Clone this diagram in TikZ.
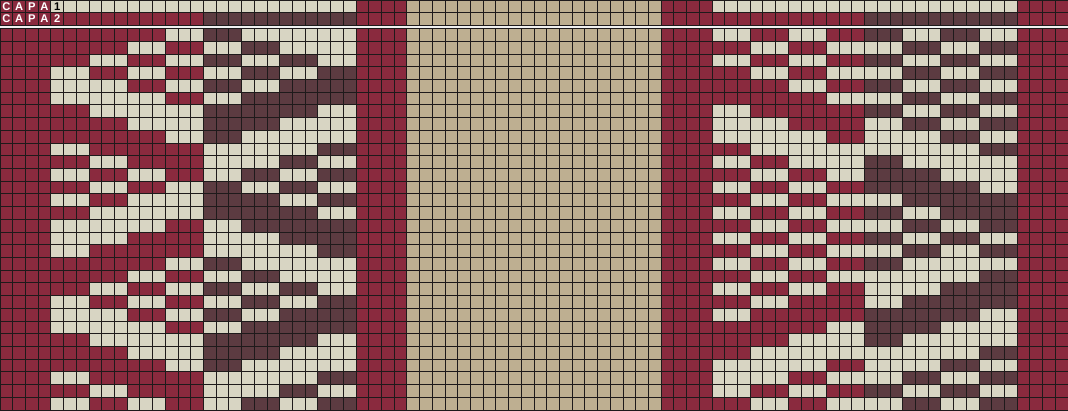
\documentclass[tikz,border=0pt]{standalone}
\usepackage{fontspec}
\setsansfont{Liberation Sans}
\definecolor{capared}{HTML}{8A2A3E}
\definecolor{capacream}{HTML}{D8D5C3}
\definecolor{capabrown}{HTML}{5C3B41}
\definecolor{capatan}{HTML}{BEAF91}
\definecolor{capagap}{HTML}{F0F0F0}
\definecolor{gridcol}{HTML}{1E1A1B}

\begin{document}
\begin{tikzpicture}[
  x=3mm, y=3mm,
  gridline/.style={draw=gridcol, line width=0.55pt},
  capatext/.style={font=\sffamily\bfseries\fontsize{7.5}{7.5}\selectfont, text=white, inner sep=0pt}
]
  \useasboundingbox (0,-30) rectangle (84,2.25);

  % bands
  \fill[capared] (0,-30) rectangle (84,2.25);
  \fill[capatan] (32,-30) rectangle (52,2.25);
  \fill[capagap] (0,0) rectangle (84,0.25);

  % header: capa 1 / capa 2
  \fill[capacream] (4,1.25) rectangle (28,2.25);
  \fill[capacream] (56,1.25) rectangle (80,2.25);
  \fill[capabrown] (16,0.25) rectangle (28,1.25);
  \fill[capabrown] (68,0.25) rectangle (80,1.25);

  % pattern, one bit per group of 3 cells
  \fill[capacream] (4,0) rectangle (28,-30);
  \fill[capacream] (56,0) rectangle (80,-30);
  \foreach \r/\lbits/\rbits in {
    0/{1,1,1,0,1,0,0,0}/{0,1,0,1,1,0,1,0},
    1/{1,1,0,1,0,1,0,0}/{1,0,1,0,0,1,0,1},
    2/{1,0,1,0,1,0,1,0}/{0,1,0,1,1,0,1,0},
    3/{0,1,0,1,0,1,0,1}/{1,0,1,0,0,1,0,1},
    4/{0,0,1,0,1,0,1,1}/{1,1,0,1,1,0,1,0},
    5/{0,0,0,1,0,1,1,1}/{1,1,1,0,0,1,0,1},
    6/{1,0,0,0,1,1,1,0}/{0,1,1,1,1,0,1,0},
    7/{1,1,0,0,1,1,0,0}/{0,0,1,1,0,1,0,1},
    8/{1,1,1,0,1,0,0,0}/{0,0,0,1,0,0,1,0},
    9/{0,1,1,1,0,0,0,1}/{1,0,0,0,0,0,0,1},
    10/{1,0,1,1,0,0,1,0}/{0,1,0,0,1,0,0,0},
    11/{0,1,0,1,0,1,0,1}/{1,0,1,0,1,1,0,0},
    12/{1,0,1,0,1,0,1,0}/{0,1,0,1,1,1,1,0},
    13/{0,1,0,0,1,1,0,1}/{1,0,1,0,0,1,1,1},
    14/{1,0,0,0,1,1,1,0}/{0,1,0,1,1,0,1,1},
    15/{0,0,0,1,0,1,1,1}/{1,0,1,0,0,1,0,1},
    16/{0,0,1,1,0,0,1,1}/{0,1,0,1,1,0,1,0},
    17/{0,1,1,1,0,0,0,1}/{1,0,1,0,0,1,0,1},
    18/{1,1,1,0,1,0,0,0}/{0,1,0,1,1,0,0,0},
    19/{1,1,0,1,0,1,0,0}/{1,0,1,0,0,0,0,1},
    20/{1,0,1,0,1,0,1,0}/{0,1,0,1,0,0,1,1},
    21/{0,1,0,1,0,1,0,1}/{1,0,1,1,0,1,1,1},
    22/{0,0,1,0,1,0,1,1}/{0,1,1,1,1,1,1,0},
    23/{0,0,0,1,0,1,1,1}/{1,1,1,0,1,1,0,0},
    24/{1,0,0,0,1,1,1,0}/{1,1,0,0,1,0,0,0},
    25/{1,1,0,0,1,1,0,0}/{1,0,0,0,0,0,0,1},
    26/{1,1,1,0,1,0,0,0}/{0,0,0,1,0,0,1,0},
    27/{0,1,1,1,0,0,0,1}/{0,0,1,0,0,1,0,1},
    28/{1,0,1,1,0,0,1,0}/{0,1,0,1,1,0,1,0},
    29/{0,1,0,1,0,1,0,1}/{1,0,1,0,0,1,0,1}} {
    \foreach \b [count=\g] in \lbits {
      \ifnum\b=1
        \ifnum\g<5 \def\groupcol{capared}\else\def\groupcol{capabrown}\fi
        \fill[\groupcol] ({1+3*\g},-\r) rectangle ++(3,-1);
      \fi
    }
    \foreach \b [count=\g] in \rbits {
      \ifnum\b=1
        \ifnum\g<5 \def\groupcol{capared}\else\def\groupcol{capabrown}\fi
        \fill[\groupcol] ({53+3*\g},-\r) rectangle ++(3,-1);
      \fi
    }
  }

  % grid
  \foreach \x in {0,...,84} {
    \draw[gridline] (\x,0) -- (\x,-30);
    \draw[gridline] (\x,0.25) -- (\x,2.25);
  }
  \foreach \y in {0,...,30}
    \draw[gridline] (0,-\y) -- (84,-\y);
  \foreach \y in {0.25,1.25,2.25}
    \draw[gridline] (0,\y) -- (84,\y);

  % labels
  \foreach \ch [count=\i from 0] in {C,A,P,A} {
    \node[capatext] (capaA\i) at (\i+0.5,1.75) {\ch};
    \node[capatext] (capaB\i) at (\i+0.5,0.75) {\ch};
  }
  \node[capatext, text=black] (layer1) at (4.5,1.75) {1};
  \node[capatext] (layer2) at (4.5,0.75) {2};
\end{tikzpicture}
\end{document}
